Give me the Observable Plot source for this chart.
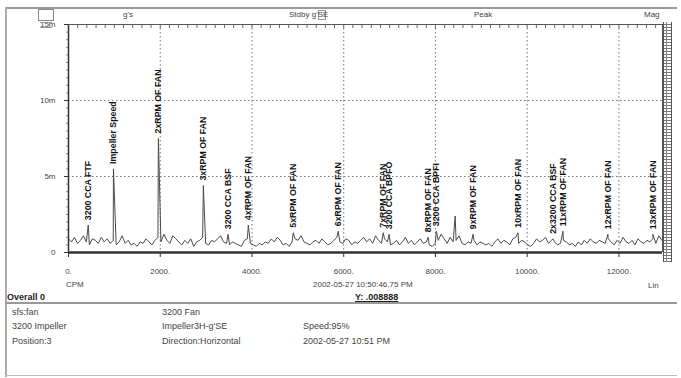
<!DOCTYPE html>
<html><head><meta charset="utf-8">
<script src="https://cdn.jsdelivr.net/npm/d3@7"></script>
<script src="https://cdn.jsdelivr.net/npm/@observablehq/plot@0.6"></script>
<style>
body{margin:0;background:#fff;font-family:"Liberation Sans",Arial,sans-serif;}
#wrap{position:relative;width:681px;height:378px;overflow:hidden;background:#fff}
#chart{position:absolute;left:0;top:0}
.t{position:absolute;font-size:9px;color:#444;white-space:nowrap;line-height:10px}
.b{font-weight:bold;color:#222}
</style></head><body><div id="wrap"><div id="chart"></div></div>
<script>
// ---- data ----
const noiseStep = 65; // CPM between noise-floor lines
const noise = [
0.9,0.7,1.0,0.6,0.8,1.1,0.7,0.5,0.9,0.8,0.6,1.0,0.7,0.9,0.6,0.8,0.5,0.7,1.1,0.6,
0.8,0.5,0.6,0.4,0.7,0.6,0.9,0.7,0.5,0.8,1.0,0.7,1.2,0.8,0.6,1.1,0.9,0.7,0.5,0.8,
0.6,0.9,0.4,0.7,0.8,1.0,0.6,0.5,0.8,0.7,0.9,1.1,0.7,0.6,0.5,0.7,0.6,0.5,0.4,0.8,
0.9,0.6,0.5,0.4,0.6,0.5,0.7,0.6,0.9,0.7,1.0,0.8,0.5,0.6,0.4,0.7,0.9,0.8,1.1,0.7,
0.6,0.5,0.7,0.8,0.6,0.9,0.7,0.5,0.6,0.8,1.0,0.7,0.6,0.9,0.8,0.5,0.7,0.6,0.8,1.0,
0.7,0.9,0.6,1.1,0.8,0.6,0.9,0.7,0.5,0.6,0.8,0.5,0.7,1.0,0.6,0.8,0.5,0.7,0.9,0.6,
0.7,0.5,0.4,0.6,0.8,1.2,0.9,0.6,1.0,0.7,0.8,1.1,0.6,0.5,0.7,0.6,0.8,0.5,0.7,0.6,
0.5,0.6,0.4,0.7,0.9,0.6,0.8,0.7,0.5,0.9,1.0,0.6,0.8,0.7,0.5,0.4,0.6,0.9,0.7,0.8,
1.0,0.6,0.8,0.7,0.5,0.6,0.8,0.7,0.5,0.6,0.4,0.7,0.5,0.8,0.6,0.9,0.7,0.6,0.8,0.7,
0.6,0.9,0.7,0.5,0.8,0.6,1.0,0.7,0.6,0.8,0.5,0.9,0.7,0.6,0.8,0.7,0.9,0.6,1.1,0.8
];
const peakCpm   = [430, 980, 1960, 2940, 3480, 3920, 4900, 5880, 6860, 6990, 7840, 8020, 8430, 8820, 9800, 10560, 10780, 11760, 12740];
const peakAmp   = [1.8, 5.5, 7.5, 4.4, 1.2, 1.8, 1.3, 1.4, 1.3, 1.2, 1.0, 1.4, 2.4, 1.2, 1.3, 0.9, 1.4, 1.2, 1.2];
const peakLabel = ["3200 CCA FTF","Impeller Speed","2xRPM OF FAN","3xRPM OF FAN","3200 CCA BSF","4xRPM OF FAN",
  "5xRPM OF FAN","6xRPM OF FAN","7xRPM OF FAN","3200 CCA BPFO","8xRPM OF FAN","3200 CCA BPFI","",
  "9xRPM OF FAN","10xRPM OF FAN","2x3200 CCA BSF","11xRPM OF FAN","12xRPM OF FAN","13xRPM OF FAN"];
const xTicks = [0,2000,4000,6000,8000,10000,12000];
const yTicks = [0,5,10,15];
const yTickLabels = ["0","5m","10m","15m"];
const xMax = 12950;

// ---- build table ----
const spectrum = noise.map((v,i)=>({cpm:i*noiseStep, amp:v}))
  .concat(peakCpm.map((c,i)=>({cpm:c, amp:peakAmp[i]})))
  .sort((a,b)=>a.cpm-b.cpm);
const peaks = peakCpm.map((c,i)=>({cpm:c, amp:peakAmp[i], label:peakLabel[i]})).filter(d=>d.label);
const minorX = d3.range(0, xMax, 200);
const minorY = d3.range(0, 15.01, 0.5);

const chart = Plot.plot({
  width: 681, height: 290,
  marginTop: 24, marginRight: 19, marginBottom: 38, marginLeft: 68,
  style: {fontFamily: "Liberation Sans, Arial, sans-serif", fontSize: "8px", color: "#333", background: "transparent"},
  x: {domain: [0, xMax], label: null},
  y: {domain: [0, 15], label: null},
  marks: [
    Plot.gridX(xTicks.slice(1), {stroke: "#777", strokeOpacity: 1, strokeDasharray: "1.5,2.5"}),
    Plot.gridY(yTicks.slice(1, 3), {stroke: "#777", strokeOpacity: 1, strokeDasharray: "1.5,2.5"}),
    Plot.axisX({anchor: "top", ticks: minorX, tickSize: -3, tickFormat: () => "", stroke: "#666", label: null}),
    Plot.axisY({anchor: "left", ticks: minorY, tickSize: 2, tickFormat: () => "", stroke: "#888", label: null}),
    Plot.axisX({anchor: "bottom", ticks: xTicks, tickSize: 5, tickPadding: 11, tickFormat: d => d + ".", fill: "#444", label: null}),
    Plot.axisY({anchor: "left", ticks: yTicks, tickSize: 4, tickPadding: 9, tickFormat: d => yTickLabels[yTicks.indexOf(d)], fill: "#444", label: null}),
    Plot.ruleX([0], {stroke: "#333", strokeWidth: 1.5}),
    Plot.ruleX([xMax], {stroke: "#555", strokeWidth: 1}),
    Plot.ruleY([15], {stroke: "#555", strokeWidth: 1}),
    Plot.line(spectrum, {x: "cpm", y: "amp", stroke: "#4a4a4a", strokeWidth: 1}),
    Plot.ruleY([0], {stroke: "#333", strokeWidth: 2.5}),
    Plot.text(peaks, {x: "cpm", y: "amp", text: "label", rotate: -90, textAnchor: "start", dy: -5,
      fontWeight: "bold", fontSize: 8.8, fill: "#111"})
  ]
});
document.getElementById("chart").append(chart);

// ---- overlay texts ----
const wrap = document.getElementById("wrap");
function add(txt, x, y, cls, extra) {
  const d = document.createElement("div");
  d.className = "t" + (cls ? " " + cls : "");
  d.textContent = txt;
  d.style.left = x + "px"; d.style.top = y + "px";
  if (extra) Object.assign(d.style, extra);
  wrap.append(d);
  return d;
}
function box(x, y, w, h, style) {
  const d = document.createElement("div");
  Object.assign(d.style, {position: "absolute", left: x + "px", top: y + "px", width: w + "px", height: h + "px", boxSizing: "border-box"}, style);
  wrap.append(d);
  return d;
}
// frame
box(5, 7, 672, 2, {background: "#999"});
box(5, 7, 2, 370, {background: "#aaa"});
box(5, 302, 672, 2, {background: "#999"});
box(5, 375, 672, 1, {background: "#bbb"});
box(38, 9, 16, 12, {border: "1px solid #888"});
box(40, 22, 12, 6, {borderTop: "1px solid #999", borderBottom: "1px solid #999"});
box(318, 10, 8, 10, {border: "1px solid #999"});
// hatched bar at right
box(663, 22, 9, 240, {borderLeft: "1px solid #555", borderRight: "1px solid #555",
  background: "repeating-linear-gradient(0deg,#777 0px,#777 1px,#fff 1px,#fff 3px)"});
box(666, 22, 1, 240, {background: "#888"});

const headerLabels = ["g's", "Stdby g'SE", "Peak", "Mag"];
const headerX = [123, 289, 474, 644];
headerLabels.forEach((t, i) => add(t, headerX[i], 10, "", {fontSize: "8px"}));

add("CPM", 66, 280, "", {fontSize: "8px"});
add("2002-05-27 10:50:46.75 PM", 313, 280, "", {fontSize: "8px"});
add("Lin", 648, 281, "", {fontSize: "8px"});
add("Overall 0", 7, 292, "b", {fontSize: "9px"});
add("Y: .008888", 355, 292, "b", {fontSize: "9px", textDecoration: "underline"});

const infoCol1 = ["sfs:fan", "3200 Impeller", "Position:3"];
const infoCol2 = ["3200 Fan", "Impeller3H-g'SE", "Direction:Horizontal"];
const infoCol3 = ["", "Speed:95%", "2002-05-27 10:51 PM"];
const rowsY = [307, 321, 336];
infoCol1.forEach((t, i) => add(t, 12, rowsY[i]));
infoCol2.forEach((t, i) => add(t, 162, rowsY[i]));
infoCol3.forEach((t, i) => t && add(t, 303, rowsY[i]));
</script></body></html>
